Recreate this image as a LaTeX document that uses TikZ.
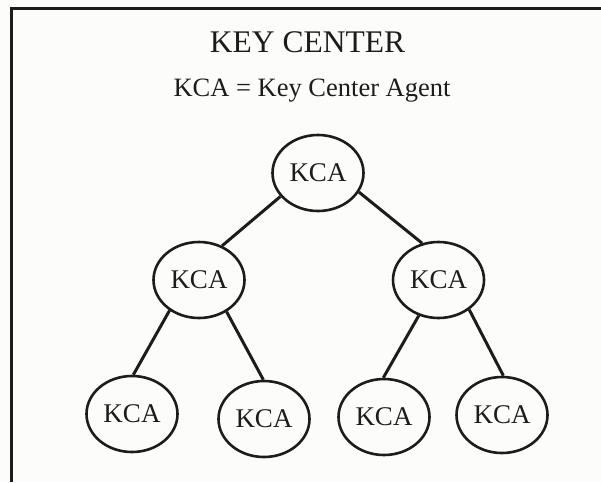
\documentclass[tikz,border=0pt]{standalone}
\usepackage{fontspec}
\setmainfont{Liberation Serif}
\usetikzlibrary{shapes.geometric}
\definecolor{ink}{HTML}{1C1C1C}
\definecolor{paper}{HTML}{FCFCFA}
\tikzset{
  agent/.style={ellipse, draw=ink, line width=2.6pt, minimum width=91pt,
    minimum height=76pt, inner sep=0pt, text=ink,
    font=\fontsize{27}{30}\selectfont},
  link/.style={draw=ink, line width=3pt},
  frame/.style={draw=ink, line width=3pt},
  title/.style={anchor=base, text=ink, inner sep=0pt},
}
\begin{document}
\begin{tikzpicture}[x=1pt, y=-1pt]
  \fill[paper] (0,0) rectangle (601,482);
  \useasboundingbox (0,0) rectangle (601,482);
  % open frame: top and left edges only
  \draw[frame] (11.7,482) -- (11.7,8.3) -- (601,8.3);

  \node[title, font=\fontsize{31.5}{36}\selectfont] (head) at (307.5,52.7) {KEY CENTER};
  \node[title, font=\fontsize{26.5}{30}\selectfont] (legend) at (312,96.7) {KCA = Key Center Agent};

  % tree of key center agents
  \node[agent] (root) at (318,173) {KCA};
  \node[agent] (l)  at (199,280) {KCA};
  \node[agent] (r)  at (438.5,280) {KCA};
  \node[agent] (ll) at (132,414) {KCA};
  \node[agent] (lr) at (264,419) {KCA};
  \node[agent] (rl) at (384,417) {KCA};
  \node[agent] (rr) at (502,415) {KCA};

  \draw[link] (root.212.6) -- (l.56.7);
  \draw[link] (root.-25.4) -- (r.114);
  \draw[link] (l.226) -- (ll.88.5);
  \draw[link] (l.-49) -- (lr.91);
  \draw[link] (r.241) -- (rl.91);
  \draw[link] (r.-44.5) -- (rr.88.5);
\end{tikzpicture}
\end{document}
